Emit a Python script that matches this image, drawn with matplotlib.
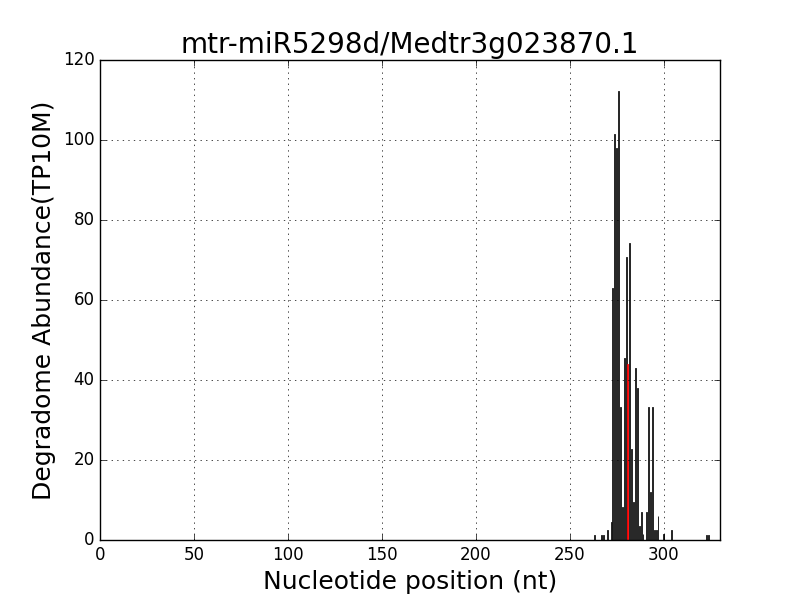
import matplotlib
matplotlib.use("Agg")
import matplotlib.pyplot as plt

plt.style.use("classic")

positions = [263, 267, 268, 270, 272, 273, 274, 275, 276, 277, 278, 279, 280,
             282, 283, 284, 285, 286, 287, 288, 289, 291, 292, 293, 294, 295,
             296, 297, 300, 304, 323, 324]
abundance = [1.2, 1.2, 1.2, 2.5, 4.6, 63, 101.5, 98, 112.3, 33.3, 8.3, 45.5, 70.7,
             74.2, 22.7, 9.5, 43, 38, 3.6, 7, 1.5, 7, 33.3, 12, 33.3, 2.5,
             2.5, 6, 1.5, 2.5, 1.2, 1.2]
cleave_pos = [281]
cleave_val = [44]

fig = plt.figure(figsize=(8, 6), dpi=100)
ax = fig.add_subplot(111)
ax.bar(positions, abundance, width=0.5, align="center", facecolor="white",
       edgecolor="black", linewidth=0.6)
ax.bar(cleave_pos, cleave_val, width=0.5, align="center", facecolor="red",
       edgecolor="red", linewidth=0.6)
ax.set_xlim(0, 330)
ax.set_ylim(0, 120)
ax.grid(True)
ax.set_title("mtr-miR5298d/Medtr3g023870.1", fontsize=20)
ax.set_xlabel("Nucleotide position (nt)", fontsize=18)
ax.set_ylabel("Degradome Abundance(TP10M)", fontsize=18)
fig.savefig("out.png", dpi=100)
